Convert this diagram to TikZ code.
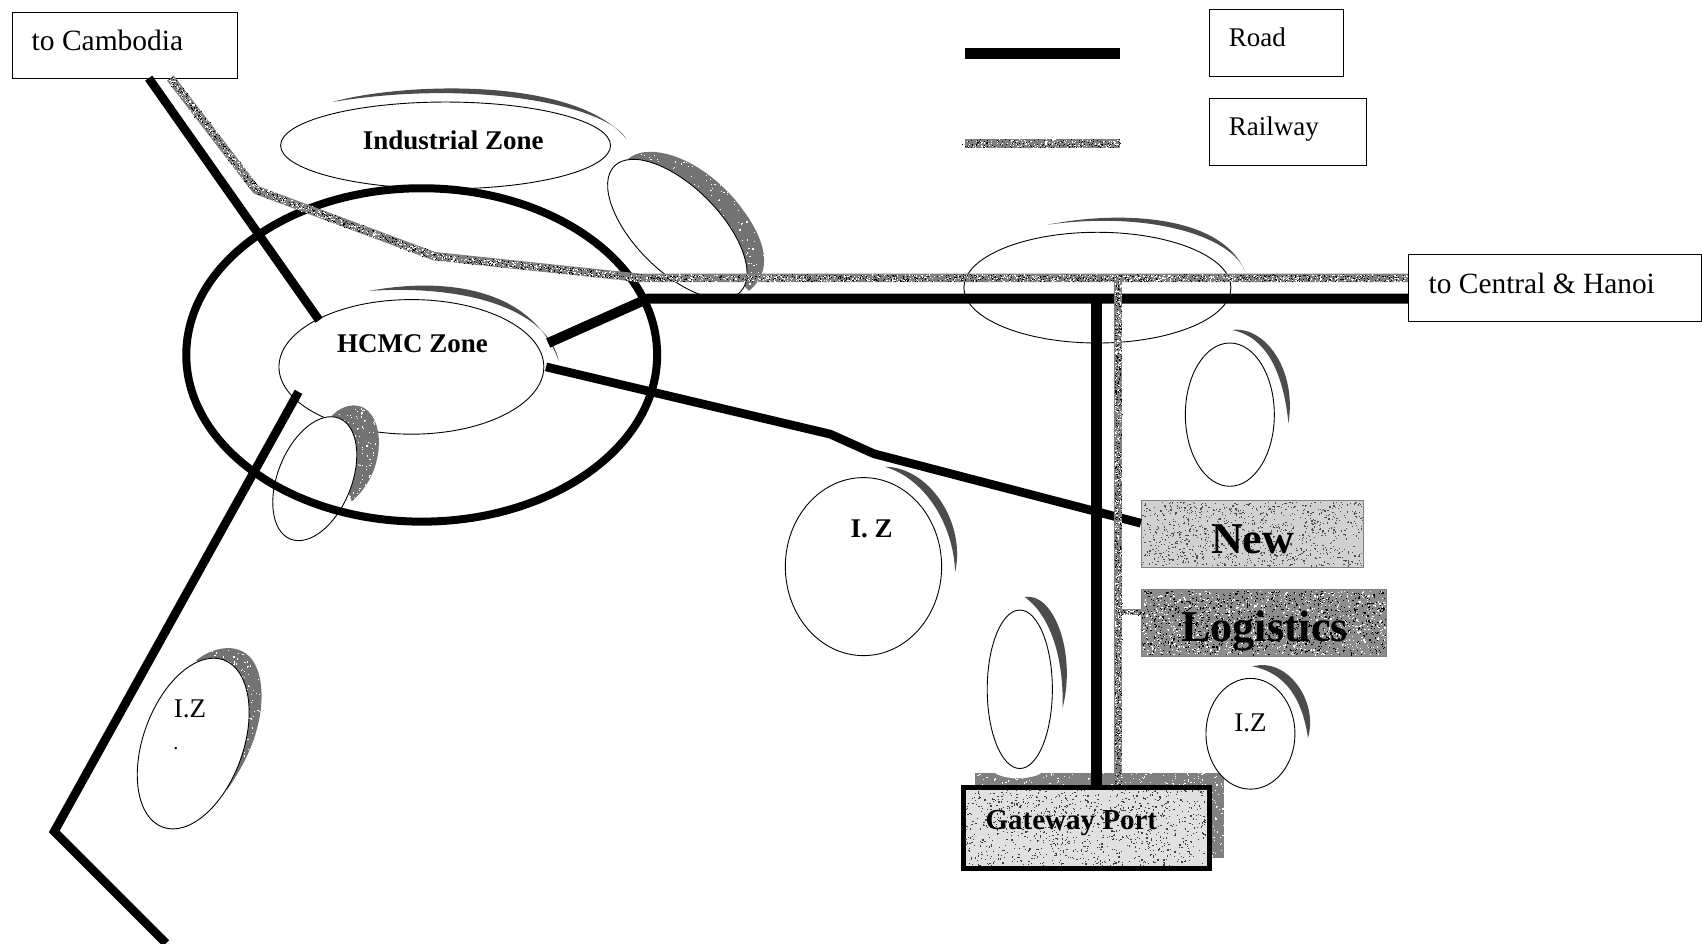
\documentclass[tikz,border=0pt]{standalone}
\usepackage{fontspec}
\setmainfont{Liberation Serif}
\usetikzlibrary{shapes.geometric,calc}
\newcommand{\fsz}[1]{\fontsize{#1}{#1}\selectfont}
\definecolor{rail}{gray}{0.50}
\definecolor{cres}{gray}{0.30}
\definecolor{cresl}{gray}{0.45}
\tikzset{
  roadline/.style={line width=10pt,black},
  roadthin/.style={line width=8.7pt,black},
  railline/.style={line width=8.5pt,rail},
  labelbox/.style={draw,line width=1pt,fill=white,inner sep=0pt,anchor=north west},
  labeltext/.style={inner sep=0pt,font=\fsz{27}},
  boldtext/.style={inner sep=0pt,font=\fsz{27}\bfseries},
  zone/.style={ellipse,draw,line width=0.9pt,fill=white,inner sep=0pt},
  crescent/.style={fill=cres,draw=none},
  crescentl/.style={fill=cresl,draw=none},
}
% name, x, y, rx, ry, rotation
\newcommand{\zonenode}[6]{%
  \pgfmathsetmacro{\zw}{2*#4*1.0855}\pgfmathsetmacro{\zh}{2*#5*1.0855}%
  \node[zone,minimum width=\zw pt,minimum height=\zh pt,rotate=#6] (#1) at (#2,#3) {};}
% name, corners
\newcommand{\boxnode}[5]{%
  \pgfmathsetmacro{\zw}{(#4-#2)*1.0855}\pgfmathsetmacro{\zh}{(#5-#3)*1.0855}%
  \node[labelbox,minimum width=\zw pt,minimum height=\zh pt] (#1) at (#2,#3) {};}
% x1,y1,x2,y2,count,colour
\newcommand{\stipple}[6]{%
  \foreach \i in {1,...,#5}{\fill[#6] ({#1+rnd*(#3-#1)},{#2+rnd*(#4-#2)}) rectangle ++(1.1,1.1);}}
% coordinate a, coordinate b, count, width
\newcommand{\railstip}[4]{%
  \foreach \i in {1,...,#3}{%
    \fill[white] ($(#1)!{rnd}!(#2)+({(rnd-0.5)*#4},{(rnd-0.5)*#4})$) rectangle ++(1,1);
    \fill[black] ($(#1)!{rnd}!(#2)+({(rnd-0.5)*#4},{(rnd-0.5)*#4})$) rectangle ++(0.9,0.9);}}
\newcommand{\pNE}{(574,152) .. controls (588,128) and (640,140) .. (678,185)
   .. controls (708,222) and (712,250) .. (690,268) -- cycle}
\newcommand{\pSE}{(300,390) .. controls (316,366) and (346,366) .. (349,404)
   .. controls (350,430) and (338,450) .. (324,462) -- cycle}
\newcommand{\pSW}{(181,608) .. controls (205,590) and (240,590) .. (241,640)
   .. controls (241,675) and (225,705) .. (209,728) -- cycle}
\begin{document}
\begin{tikzpicture}[x=1.0855pt,y=1.0855pt,yscale=-1]
\pgfmathsetseed{4242}
\useasboundingbox (0,0) rectangle (1568,869);
\fill[white] (0,0) rectangle (1568,869);

% port shadow
\fill[rail] (898,712) rectangle (1128,790);
\stipple{898}{712}{1128}{790}{700}{white}

% crescents
\fill[crescent] (306,94) .. controls (370,76) and (530,70) .. (577,128)
   .. controls (560,98) and (440,72) .. (306,94) -- cycle;
\fill[crescentl] \pNE;
\begin{scope}\clip \pNE; \stipple{570}{125}{712}{270}{400}{white}\end{scope}
\fill[crescent] (340,268) .. controls (410,255) and (490,265) .. (515,333)
   .. controls (505,285) and (430,262) .. (340,268) -- cycle;
\fill[crescent] (965,207) .. controls (1030,194) and (1125,197) .. (1147,250)
   .. controls (1135,218) and (1060,194) .. (965,207) -- cycle;
\fill[crescent] (1135,304) .. controls (1165,300) and (1195,340) .. (1187,390)
   .. controls (1182,340) and (1165,310) .. (1135,304) -- cycle;
\fill[crescent] (815,430) .. controls (855,430) and (890,480) .. (880,527)
   .. controls (878,480) and (850,440) .. (815,430) -- cycle;
\fill[crescent] (944,550) .. controls (970,545) and (992,600) .. (979,652)
   .. controls (980,600) and (965,565) .. (944,550) -- cycle;
\fill[crescent] (1154,614) .. controls (1185,605) and (1215,645) .. (1205,680)
   .. controls (1200,645) and (1185,620) .. (1154,614) -- cycle;
\fill[crescentl] \pSW;
\begin{scope}\clip \pSW; \stipple{180}{590}{245}{730}{300}{white}\end{scope}

% zones
\zonenode{indzone}{410.5}{134}{152}{40}{0}
\zonenode{nezone}{624}{211}{82}{39}{-45}
\zonenode{hcmc}{379}{338}{122}{62}{0}
\fill[crescentl] \pSE;
\begin{scope}\clip \pSE; \stipple{298}{362}{352}{462}{200}{white}\end{scope}
\zonenode{sezone}{290}{441}{60}{34}{68}
\zonenode{ezone}{1011}{265}{123}{51}{0}
\zonenode{rzone}{1133}{382}{41}{66}{0}
\zonenode{izb}{795.5}{522}{72}{82}{0}
\fill[white] (938,708) ellipse (24 and 9);
\zonenode{slim}{939.5}{635}{30}{73}{0}
\zonenode{izs}{1152}{676}{41}{51}{0}
\zonenode{izw}{178}{685}{46}{82}{-20}
\node[ellipse,draw,line width=8pt,minimum width=470.9pt,minimum height=333.4pt,inner sep=0pt] (region) at (388.5,327) {};

% boxes
\boxnode{cam}{11}{11}{218}{72}
\boxnode{roadbox}{1114}{8}{1237}{70}
\boxnode{railbox}{1114}{90}{1258}{152}
\boxnode{hanoi}{1297}{234}{1567}{296}

\node[draw=gray,line width=1pt,fill=black!18,inner sep=0pt,minimum width=222.5pt,minimum height=66.2pt,anchor=north west] (newbox) at (1051,461) {};
\stipple{1052}{462}{1255}{521}{1000}{black!70}
\node[draw=gray,line width=1pt,fill=black!45,inner sep=0pt,minimum width=245.3pt,minimum height=66.2pt,anchor=north west] (logbox) at (1051,543) {};
\stipple{1052}{544}{1276}{603}{1100}{black}
\stipple{1052}{544}{1276}{603}{900}{white}

% legend lines
\coordinate (lroada) at (889,49); \coordinate (lroadb) at (1032,49);
\coordinate (lraila) at (889,132); \coordinate (lrailb) at (1032,132);
\draw[line width=11pt,black] (lroada) -- (lroadb);
\draw[line width=9pt,rail] (lraila) -- (lrailb);
\railstip{lraila}{lrailb}{160}{7.5}

% railways
\coordinate (railstart) at (157,72);
\coordinate (railb) at (236,175);
\coordinate (railc) at (400,236);
\coordinate (raild) at (590,256);
\coordinate (railend) at (1297,256);
\coordinate (railj) at (1030,256);
\coordinate (railp) at (1030,726);
\coordinate (railk) at (1030,564);
\coordinate (railn) at (1051,564);
\draw[railline,line join=round] (railstart) -- (railb) -- (railc) -- (raild) -- (railend);
\railstip{railstart}{railb}{150}{6.5}
\railstip{railb}{railc}{200}{6.5}
\railstip{railc}{raild}{220}{6.5}
\railstip{raild}{railend}{800}{6.5}

% roads
\coordinate (roada) at (137,72);
\coordinate (roadb) at (294,295);
\draw[roadthin] (roada) -- (roadb);
\coordinate (roadc) at (505,316);
\coordinate (roadd) at (597,275);
\coordinate (roade) at (1297,275);
\draw[roadline,line join=round] (roadc) -- (roadd) -- (roade);
\coordinate (roadf) at (503,338);
\coordinate (roadg) at (765,400);
\coordinate (roadh) at (805,418);
\coordinate (roadi) at (1051,482);
\draw[roadthin,line join=round] (roadf) -- (roadg) -- (roadh) -- (roadi);
\coordinate (roadj) at (275,361);
\coordinate (roadk) at (50,766);
\coordinate (roadl) at (153,869);
\draw[roadthin,line join=miter] (roadj) -- (roadk) -- (roadl);
\coordinate (roadm) at (1010,275);
\coordinate (roadn) at (1010,726);
\draw[line width=11pt,black] (roadm) -- (roadn);
\draw[railline] (railj) -- (railp);
\railstip{railj}{railp}{520}{6.5}
\draw[line width=6pt,rail] (railk) -- (railn);
\railstip{railk}{railn}{25}{4.5}

% gateway
\node[draw,line width=5pt,fill=black!12,inner sep=0pt,minimum width=246pt,minimum height=81pt,anchor=north west] (port) at (885,723) {};
\stipple{889}{727}{1110}{797}{1000}{black!75}

% texts
\node[labeltext,anchor=west,font=\fsz{29.5}] (tcam) at (29,37) {to Cambodia};
\node[labeltext,anchor=west] (troad) at (1132,34) {Road};
\node[labeltext,anchor=west] (trail) at (1132,119) {Railway};
\node[labeltext,anchor=west,font=\fsz{29.4}] (thanoi) at (1316,261) {to Central \& Hanoi};
\node[boldtext] (tind) at (417.5,129) {Industrial Zone};
\node[boldtext] (thcmc) at (380,317) {HCMC Zone};
\node[boldtext] (tizb) at (803,487) {I. Z};
\node[labeltext] (tizs) at (1152,666) {I.Z};
\node[labeltext] (tizw) at (175,653) {I.Z};
\node[labeltext,font=\fsz{20}] (tdot) at (162,690) {.};
\node[inner sep=0pt,font=\fsz{44}\bfseries] (tnew) at (1154,497) {New};
\node[inner sep=0pt,font=\fsz{44}\bfseries] (tlog) at (1165,581) {Logistics};
\node[boldtext,font=\fsz{29}\bfseries] (tport) at (987,758) {Gateway Port};
\end{tikzpicture}
\end{document}
